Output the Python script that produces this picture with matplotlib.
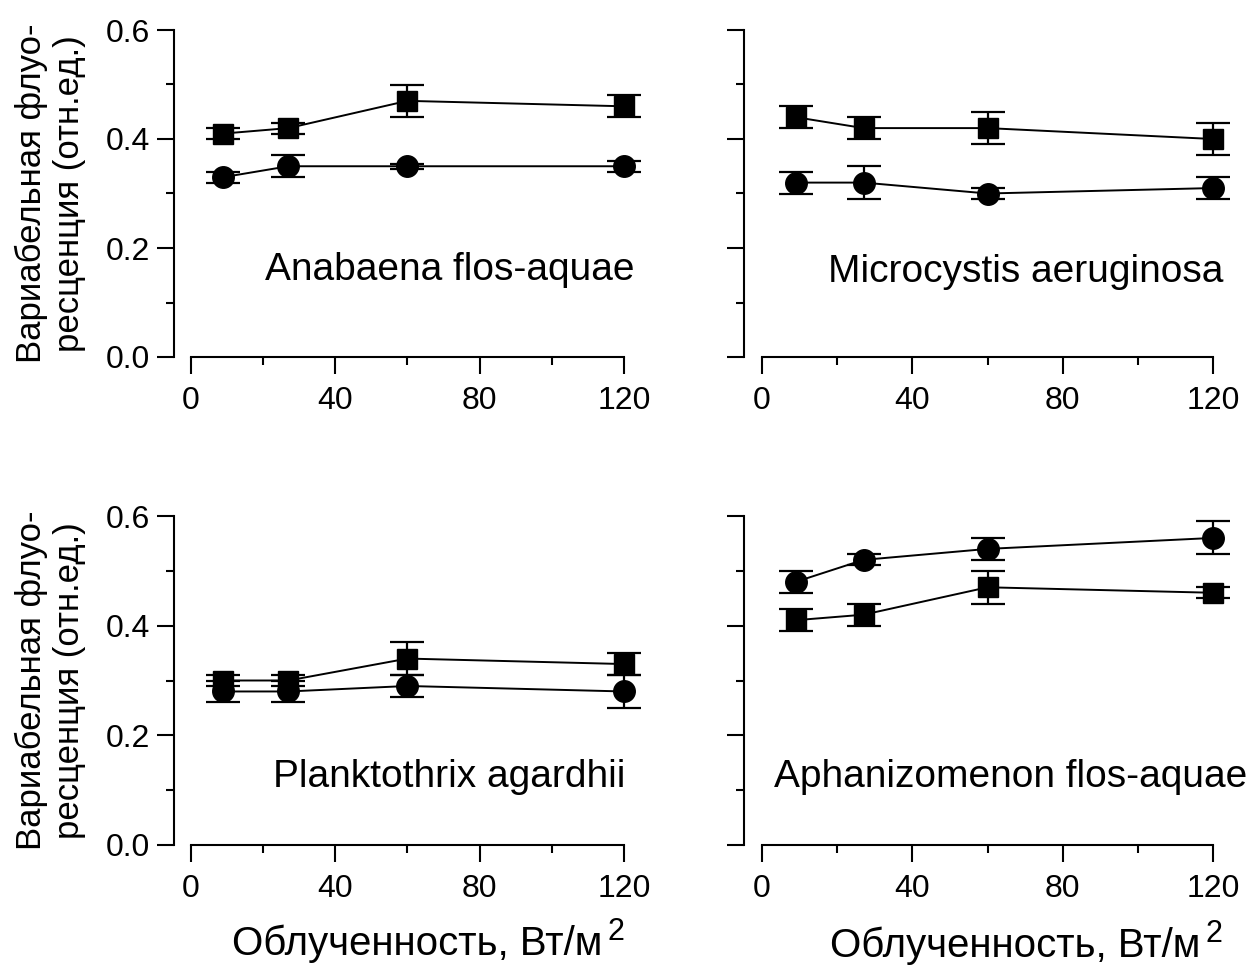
import matplotlib
matplotlib.use('Agg')
import matplotlib.pyplot as plt
from matplotlib.ticker import MultipleLocator

plt.rcParams['font.family'] = ['Liberation Sans', 'DejaVu Sans']

# irradiance levels, W/m2
irradiance = [9, 27, 60, 120]

species = ['Anabaena flos-aquae', 'Microcystis aeruginosa',
           'Planktothrix agardhii', 'Aphanizomenon flos-aquae']

# squares
sq_anabaena = [0.41, 0.42, 0.47, 0.46]
sq_anabaena_err = [0.01, 0.01, 0.03, 0.02]
sq_microcystis = [0.44, 0.42, 0.42, 0.40]
sq_microcystis_err = [0.02, 0.02, 0.03, 0.03]
sq_planktothrix = [0.30, 0.30, 0.34, 0.33]
sq_planktothrix_err = [0.01, 0.01, 0.03, 0.02]
sq_aphanizomenon = [0.41, 0.42, 0.47, 0.46]
sq_aphanizomenon_err = [0.02, 0.02, 0.03, 0.01]

# circles
ci_anabaena = [0.33, 0.35, 0.35, 0.35]
ci_anabaena_err = [0.01, 0.02, 0.005, 0.01]
ci_microcystis = [0.32, 0.32, 0.30, 0.31]
ci_microcystis_err = [0.02, 0.03, 0.01, 0.02]
ci_planktothrix = [0.28, 0.28, 0.29, 0.28]
ci_planktothrix_err = [0.02, 0.02, 0.02, 0.03]
ci_aphanizomenon = [0.48, 0.52, 0.54, 0.56]
ci_aphanizomenon_err = [0.02, 0.01, 0.02, 0.03]

squares = [(sq_anabaena, sq_anabaena_err), (sq_microcystis, sq_microcystis_err),
           (sq_planktothrix, sq_planktothrix_err), (sq_aphanizomenon, sq_aphanizomenon_err)]
circles = [(ci_anabaena, ci_anabaena_err), (ci_microcystis, ci_microcystis_err),
           (ci_planktothrix, ci_planktothrix_err), (ci_aphanizomenon, ci_aphanizomenon_err)]

ylabel = 'Вариабельная флуо-\nресценция (отн.ед.)'
xlabel = 'Облученность, Вт/м'
xlabel_sup = '2'

W, H = 1258, 967
fig = plt.figure(figsize=(W / 100, H / 100), dpi=100)

# panel rectangles in pixels: left spine x, top y, width, height
boxes = [(174, 30, 471.6, 327), (744, 30, 491.6, 327),
         (174, 516, 471.6, 329), (744, 516, 491.6, 329)]
xlims = [(-4.7, 126), (-4.8, 126), (-4.7, 126), (-4.8, 126)]
# species label position (x data, y baseline data)
label_pos = [(71.6, 0.141), (70.1, 0.138), (71.6, 0.106), (66.1, 0.106)]

for i, (l, t, w, h) in enumerate(boxes):
    ax = fig.add_axes([l / W, 1 - (t + h) / H, w / W, h / H])
    sq, sq_err = squares[i]
    ci, ci_err = circles[i]
    ax.errorbar(irradiance, sq, yerr=sq_err, fmt='-s', color='black', ms=15,
                lw=1.4, elinewidth=1.6, capsize=12, capthick=1.6, clip_on=False)
    ax.errorbar(irradiance, ci, yerr=ci_err, fmt='-o', color='black', ms=15.5,
                lw=1.4, elinewidth=1.6, capsize=12, capthick=1.6, clip_on=False)

    ax.set_xlim(*xlims[i])
    ax.set_ylim(0, 0.6)
    for s in ['top', 'right']:
        ax.spines[s].set_visible(False)
    ax.spines['left'].set_bounds(0, 0.6)
    ax.spines['bottom'].set_bounds(0, 120)
    ax.spines['left'].set_linewidth(1.5)
    ax.spines['bottom'].set_linewidth(1.5)

    ax.xaxis.set_major_locator(MultipleLocator(40))
    ax.xaxis.set_minor_locator(MultipleLocator(20))
    ax.yaxis.set_major_locator(MultipleLocator(0.2))
    ax.yaxis.set_minor_locator(MultipleLocator(0.1))
    ax.tick_params(which='major', length=12, width=1.5, labelsize=23)
    ax.tick_params(axis='x', which='major', pad=9)
    ax.tick_params(axis='y', which='major', pad=5)
    ax.tick_params(which='minor', length=6, width=1.5)
    if i % 2 == 1:
        ax.tick_params(axis='y', labelleft=False)
    else:
        ax.set_ylabel(ylabel, fontsize=25, linespacing=1.2)
        ax.yaxis.label.set_va('center')
        ax.yaxis.set_label_coords(-0.262, 0.5)

    ax.text(label_pos[i][0], label_pos[i][1], species[i], fontsize=28,
            ha='center', va='baseline')

# x axis titles with a raised "2"
renderer = fig.canvas.get_renderer()
for x0, y0 in [(232, 955), (830, 957)]:
    t = fig.text(x0 / W, 1 - y0 / H, xlabel, fontsize=29, ha='left', va='baseline')
    bb = t.get_window_extent(renderer)
    fig.text((bb.x1 + 5) / W, 1 - (y0 - 15) / H, xlabel_sup, fontsize=22,
             ha='left', va='baseline')

fig.savefig('out.png', dpi=100)
